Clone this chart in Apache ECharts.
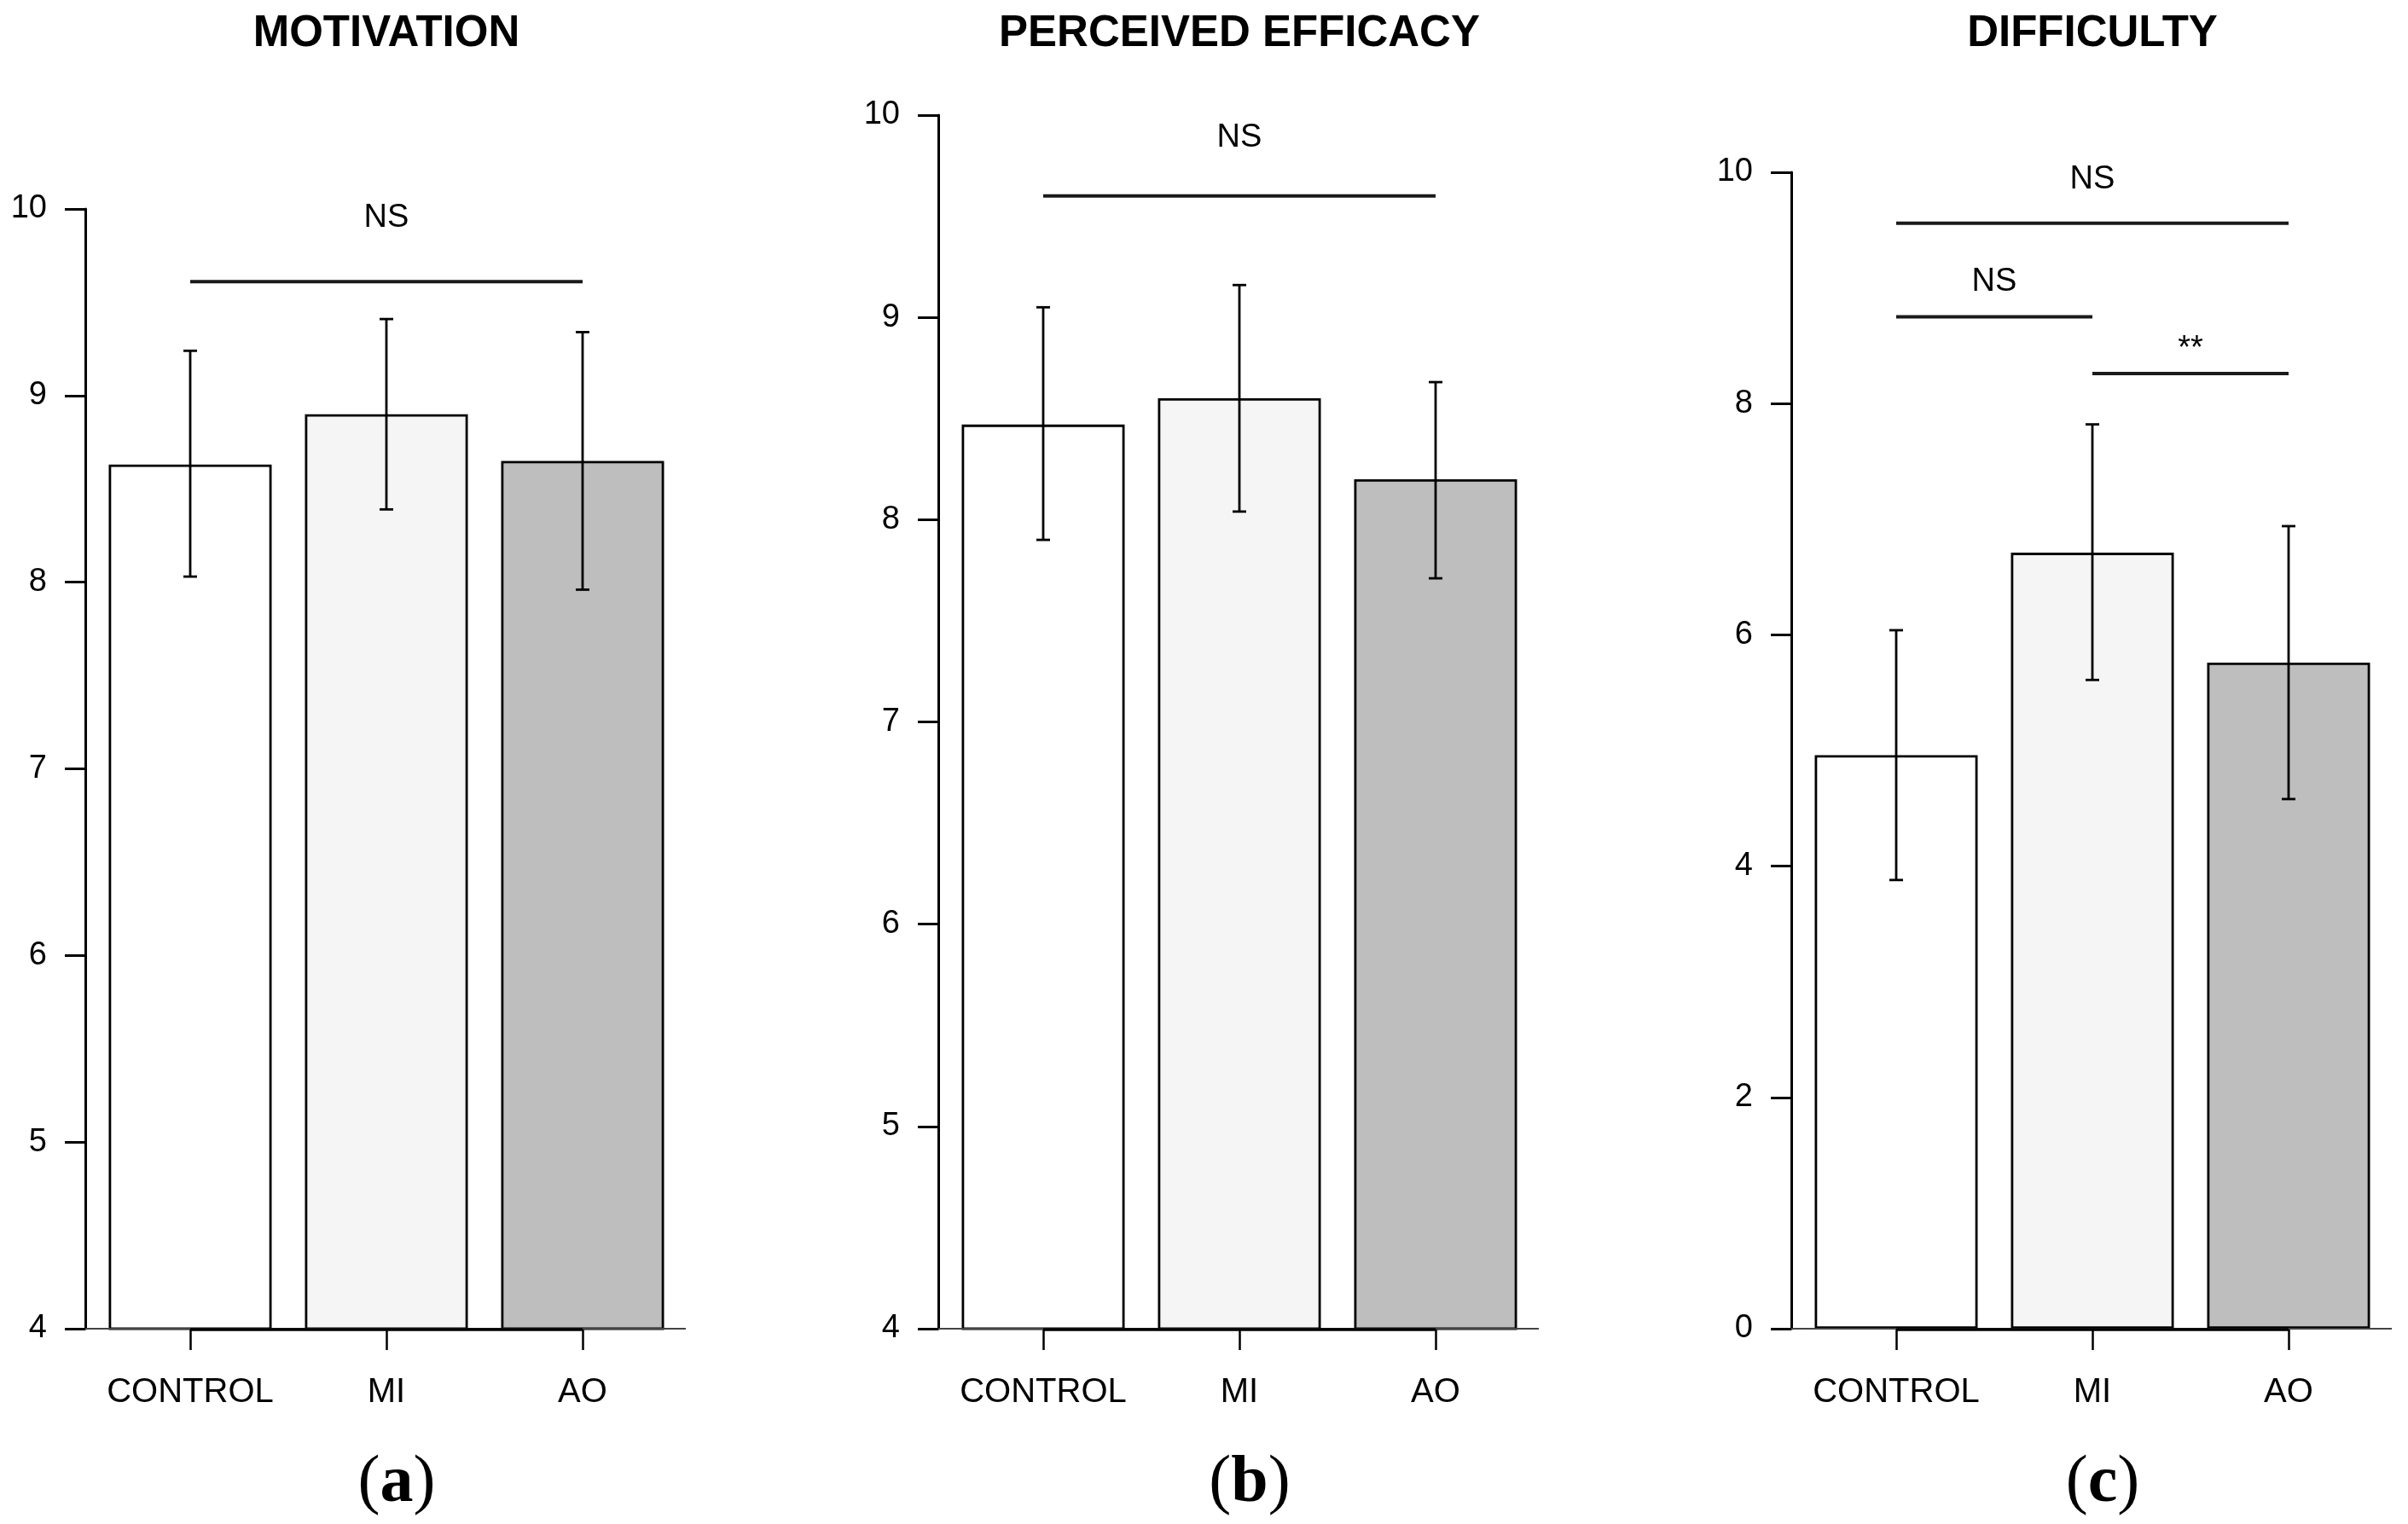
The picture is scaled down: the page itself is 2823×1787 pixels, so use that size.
<!DOCTYPE html>
<html><head><meta charset="utf-8">
<script src="https://cdn.jsdelivr.net/npm/echarts@6/dist/echarts.min.js"></script>
<style>html,body{margin:0;padding:0;background:#fff}#c{width:2823px;height:1787px}</style>
</head><body><div id="c"></div>
<script>
// ---------- data ----------
const categories = ['CONTROL', 'MI', 'AO'];
const barColors = ['#ffffff', '#f5f5f5', '#bebebe'];

const motivationMean = [8.63, 8.90, 8.65];
const motivationLow  = [8.03, 8.39, 7.96];
const motivationHigh = [9.24, 9.41, 9.34];

const efficacyMean = [8.47, 8.60, 8.20];
const efficacyLow  = [7.90, 8.04, 7.71];
const efficacyHigh = [9.05, 9.16, 8.68];

const difficultyMean = [4.96, 6.71, 5.76];
const difficultyLow  = [3.88, 5.61, 4.58];
const difficultyHigh = [6.04, 7.82, 6.94];

// significance brackets: [fromCategory, toCategory, lineValue, labelValue, label]
const sigMotivation = [[0, 2, 9.61, 9.95, 'NS']];
const sigEfficacy   = [[0, 2, 9.60, 9.89, 'NS']];
const sigDifficulty = [[0, 2, 9.56, 9.94, 'NS'], [0, 1, 8.75, 9.05, 'NS'], [1, 2, 8.26, 8.47, '**']];

const panelTitles  = ['MOTIVATION', 'PERCEIVED EFFICACY', 'DIFFICULTY'];
const panelLetters = ['a', 'b', 'c'];
const yMins      = [4, 4, 0];
const yMaxs      = [10, 10, 10];
const yIntervals = [1, 1, 2];

// ---------- layout ----------
const FONT = '"Liberation Sans", Arial, Helvetica, sans-serif';
const panels = [
  { mean: motivationMean, low: motivationLow, high: motivationHigh, sig: sigMotivation },
  { mean: efficacyMean,   low: efficacyLow,   high: efficacyHigh,   sig: sigEfficacy },
  { mean: difficultyMean, low: difficultyLow, high: difficultyHigh, sig: sigDifficulty }
];
const gridLefts = [108, 1108, 2108];
const gridTops  = [245, 135, 202];
const gridBottomY = 1558;
const gridWidth = 690;

const grids = [], xAxes = [], yAxes = [], series = [], graphics = [];

panels.forEach((p, i) => {
  grids.push({ left: gridLefts[i], top: gridTops[i], width: gridWidth, height: gridBottomY - gridTops[i], containLabel: false });
  xAxes.push({
    type: 'category', gridIndex: i, data: categories,
    axisLine: { show: false },
    axisTick: { show: true, interval: 0, alignWithLabel: true, length: 25, lineStyle: { color: '#000', width: 2.5 } },
    axisLabel: { color: '#000', fontSize: 40, fontFamily: FONT, margin: 55, interval: 0, hideOverlap: false },
    splitLine: { show: false }
  });
  yAxes.push({
    type: 'value', gridIndex: i, min: yMins[i], max: yMaxs[i], interval: yIntervals[i], offset: 8,
    axisLine: { show: true, lineStyle: { color: '#000', width: 3 } },
    axisTick: { show: true, length: 24, lineStyle: { color: '#000', width: 3 } },
    axisLabel: { color: '#000', fontSize: 38, fontFamily: FONT, margin: 45 },
    splitLine: { show: false }
  });

  // bars
  series.push({
    type: 'bar', xAxisIndex: i, yAxisIndex: i, barWidth: 191,
    data: p.mean.map((v, k) => ({ value: v, itemStyle: { color: barColors[k] } })),
    itemStyle: { borderColor: '#000', borderWidth: 2.8 },
    silent: true, z: 2
  });

  // baseline decorations (thin line + heavy axis segment between first and last tick)
  series.push({
    type: 'custom', xAxisIndex: i, yAxisIndex: i, silent: true, z: 3,
    data: [[0, categories.length - 1, yMins[i]]],
    encode: { x: [0, 1], y: 2 },
    renderItem: function (params, api) {
      const a = api.coord([api.value(0), api.value(2)]);
      const b = api.coord([api.value(1), api.value(2)]);
      const band = api.size([1, 0])[0];
      return {
        type: 'group', children: [
          { type: 'line', shape: { x1: a[0] - band / 2 - 8, y1: a[1], x2: b[0] + band / 2 + 6, y2: b[1] },
            style: { stroke: '#444', lineWidth: 2 } },
          { type: 'line', shape: { x1: a[0], y1: a[1] + 1, x2: b[0], y2: b[1] + 1 },
            style: { stroke: '#000', lineWidth: 3.5 } }
        ]
      };
    }
  });

  // error bars
  series.push({
    type: 'custom', xAxisIndex: i, yAxisIndex: i, silent: true, z: 4,
    data: p.mean.map((v, k) => [k, p.low[k], p.high[k]]),
    encode: { x: 0, y: [1, 2] },
    renderItem: function (params, api) {
      const lo = api.coord([api.value(0), api.value(1)]);
      const hi = api.coord([api.value(0), api.value(2)]);
      const w = 8, st = { stroke: '#000', lineWidth: 2.8 };
      return {
        type: 'group', children: [
          { type: 'line', shape: { x1: lo[0], y1: lo[1], x2: hi[0], y2: hi[1] }, style: st },
          { type: 'line', shape: { x1: lo[0] - w, y1: lo[1], x2: lo[0] + w, y2: lo[1] }, style: st },
          { type: 'line', shape: { x1: hi[0] - w, y1: hi[1], x2: hi[0] + w, y2: hi[1] }, style: st }
        ]
      };
    }
  });

  // significance brackets
  const sig = p.sig;
  series.push({
    type: 'custom', xAxisIndex: i, yAxisIndex: i, silent: true, z: 5,
    data: sig.map(s => [s[0], s[1], s[2], s[3]]),
    encode: { x: [0, 1], y: [2, 3] },
    renderItem: function (params, api) {
      const a = api.coord([api.value(0), api.value(2)]);
      const b = api.coord([api.value(1), api.value(2)]);
      const t = api.coord([api.value(0), api.value(3)]);
      return {
        type: 'group', children: [
          { type: 'line', shape: { x1: a[0], y1: a[1], x2: b[0], y2: b[1] },
            style: { stroke: '#1a1a1a', lineWidth: 4 } },
          { type: 'text', x: (a[0] + b[0]) / 2, y: t[1],
            style: { text: sig[params.dataIndex][4], fill: '#000', font: '38px ' + FONT,
                     textAlign: 'center', textVerticalAlign: 'middle' } }
        ]
      };
    }
  });

  const cx = gridLefts[i] + gridWidth / 2;
  graphics.push({
    type: 'text', x: cx, y: 40, silent: true,
    style: { text: panelTitles[i], fill: '#000', font: 'bold 51px ' + FONT, textAlign: 'center', textVerticalAlign: 'middle' }
  });
  graphics.push({
    type: 'text', x: cx + 12, y: 1740, silent: true,
    style: {
      text: '{p|(}{b|' + panelLetters[i] + '}{p|)}', textAlign: 'center', textVerticalAlign: 'middle',
      rich: {
        p: { font: '78px "Liberation Serif", "Times New Roman", serif', fill: '#000' },
        b: { font: 'bold 78px "Liberation Serif", "Times New Roman", serif', fill: '#000' }
      }
    }
  });
});

const chart = echarts.init(document.getElementById('c'), null, { renderer: 'canvas' });
chart.setOption({
  backgroundColor: '#ffffff',
  animation: false,
  grid: grids, xAxis: xAxes, yAxis: yAxes, series: series,
  graphic: graphics
});
</script>
</body></html>
